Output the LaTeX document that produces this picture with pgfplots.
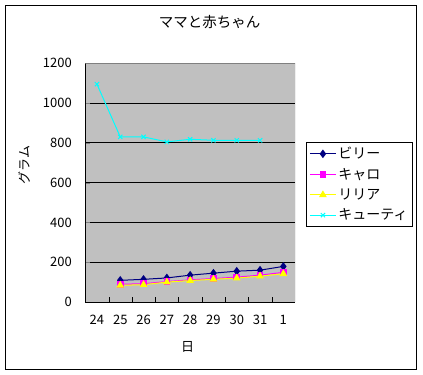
\documentclass[border=0pt]{standalone}
\usepackage{pgfplots}
\pgfplotsset{compat=1.18}
\usepackage{fontspec}
\setmainfont{Noto Sans CJK JP}
\definecolor{navy}{HTML}{000080}
\definecolor{plotbg}{HTML}{C0C0C0}
\definecolor{mag}{HTML}{FF00FF}
\definecolor{yel}{HTML}{FFFF00}
\definecolor{cya}{HTML}{00FFFF}
\begin{document}
\fontsize{13bp}{15bp}\selectfont
\begin{tikzpicture}
\useasboundingbox (0bp,0bp) rectangle (423bp,-375bp);
\draw[line width=1bp] (5bp,-5bp) rectangle (416bp,-369bp);
\node[font=\fontsize{14.5bp}{16bp}\selectfont] at (209.5bp,-22bp) {ママと赤ちゃん};
\node[rotate=90] at (24bp,-165bp) {グラム};
\node at (187.5bp,-347bp) {日};
\begin{axis}[
  at={(85.3bp,-302bp)}, anchor=south west,
  scale only axis, width=209.7bp, height=238.7bp,
  xmin=-0.5, xmax=8.5, ymin=0, ymax=1200,
  axis lines=left, axis line style={-, black, line width=0.8bp},
  axis background/.style={fill=plotbg},
  xtick={0,...,8}, xticklabels={24,25,26,27,28,29,30,31,1},
  major x tick style={draw=none},
  extra x ticks={0.5,1.5,...,7.5}, extra x tick labels={},
  extra x tick style={major tick length=5bp, tick align=inside, major x tick style={draw=black}},
  ytick={0,200,...,1200},
  tick align=inside, major tick length=5bp,
  ymajorgrids, grid style={black, line width=0.8bp},
  /pgf/number format/assume math mode=true,
  /pgf/number format/1000 sep={},
  ticklabel style={font=\fontsize{13bp}{15bp}\selectfont},
  yticklabel style={xshift=-9bp},
  xticklabel style={yshift=-9bp},
  legend style={at={(1.0525,0.6716)}, anchor=north west, draw=black, line width=0.8bp, fill=white,
    font=\fontsize{14bp}{16bp}\selectfont, row sep=3.5bp, inner xsep=3bp, inner ysep=3bp},
  legend cell align=left,
  legend image code/.code={\draw[mark repeat=2,mark phase=2,#1] plot coordinates {(0bp,0bp) (13bp,0bp) (26bp,0bp)};},
  every axis plot/.append style={line width=1bp},
]
\addplot[color=navy, mark=diamond*, mark size=3.5bp, mark options={fill=navy}]
  coordinates {(1,109) (2,114) (3,121) (4,135) (5,145) (6,155) (7,160) (8,179)};
\addlegendentry{ビリー}
\addplot[color=mag, mark=square*, mark size=2.8bp, mark options={fill=mag}]
  coordinates {(1,89) (2,92) (3,103) (4,111) (5,118) (6,125) (7,135) (8,149)};
\addlegendentry{キャロ}
\addplot[color=yel, mark=triangle*, mark size=3.5bp, mark options={fill=yel}]
  coordinates {(1,84) (2,87) (3,100) (4,108) (5,114) (6,120) (7,130) (8,142)};
\addlegendentry{リリア}
\addplot[color=cya, mark=x, mark size=3bp]
  coordinates {(0,1095) (1,830) (2,830) (3,805) (4,818) (5,813) (6,813) (7,813)};
\addlegendentry{キューティ}
\draw[gray, line width=0.8bp] (rel axis cs:0,1) -- (rel axis cs:1,1) -- (rel axis cs:1,0);
\end{axis}
\end{tikzpicture}
\end{document}
